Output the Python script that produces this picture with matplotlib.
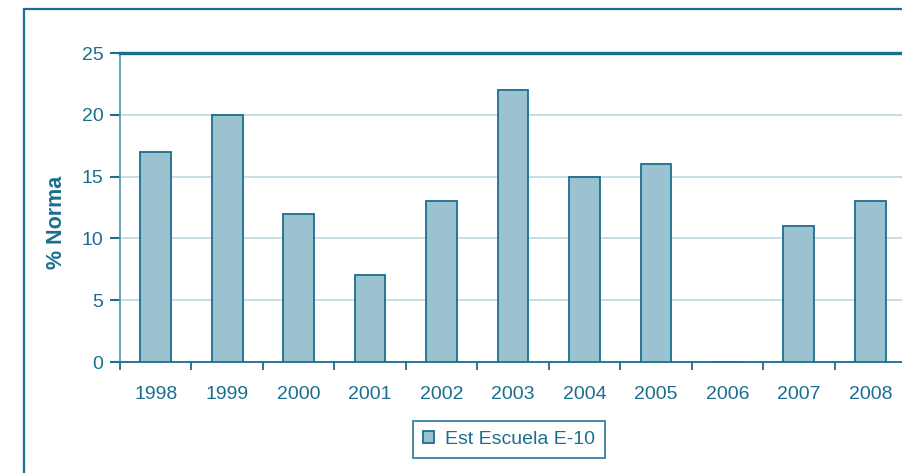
import matplotlib
matplotlib.use("Agg")
import matplotlib.pyplot as plt
import numpy as np
from matplotlib.patches import Rectangle

years = ["1998", "1999", "2000", "2001", "2002", "2003", "2004", "2005", "2006", "2007", "2008"]
norma = [17, 20, 12, 7, 13, 22, 15, 16, 0, 11, 13]
series_name = "Est Escuela E-10"

dark = "#1a6e8e"
fill = "#9bc2d0"
grid = "#c8dfe7"
spine_left = "#5a9ab5"

plt.rcParams['font.family'] = ['Liberation Sans', 'DejaVu Sans']

fig = plt.figure(figsize=(9.02, 4.73), dpi=100)

# outer frame around the whole chart
fig.patches.append(Rectangle((24 / 902, -0.1), 1.2, 1.1 - 9 / 473,
                             transform=fig.transFigure, fill=False,
                             edgecolor=dark, linewidth=1.6))

ax = fig.add_axes([120 / 902, 1 - 362 / 473, 786 / 902, 309 / 473])

x = np.arange(len(years))
ax.bar(x, norma, width=0.43, color=fill, edgecolor=dark, linewidth=1.3,
       label=series_name, zorder=3)

ax.set_xlim(-0.5, len(years) - 0.5)
ax.set_ylim(0, 25)
ax.set_yticks([0, 5, 10, 15, 20, 25])
ax.yaxis.grid(True, color=grid, linewidth=1.4, zorder=0)

ax.set_xticks(x)
ax.set_xticklabels(years)
ax.set_xticks(np.arange(len(years) + 1) - 0.5, minor=True)
ax.tick_params(axis="x", which="major", length=0, pad=17, labelsize=14, labelcolor=dark)
ax.tick_params(axis="x", which="minor", length=6, width=1.3, color=dark)
ax.tick_params(axis="y", length=7, width=1.5, color=dark, labelsize=14, labelcolor=dark, pad=5)

ax.spines["top"].set_color(dark)
ax.spines["top"].set_linewidth(2.4)
ax.spines["right"].set_visible(False)
ax.spines["left"].set_color(spine_left)
ax.spines["left"].set_linewidth(1.3)
ax.spines["bottom"].set_color(dark)
ax.spines["bottom"].set_linewidth(1.3)

ax.set_ylabel("% Norma", color=dark, fontsize=15.5, fontweight="bold")
ax.yaxis.set_label_coords(-0.067, 0.453)

leg = ax.legend(loc="upper center", bbox_to_anchor=(0.495, -0.16), frameon=True,
                fancybox=False, handlelength=0.55, handleheight=0.55,
                handletextpad=0.6, borderpad=0.5, fontsize=14)
leg.get_frame().set_edgecolor(dark)
leg.get_frame().set_linewidth(1.4)
for t in leg.get_texts():
    t.set_color(dark)

fig.savefig("out.png", dpi=100)
